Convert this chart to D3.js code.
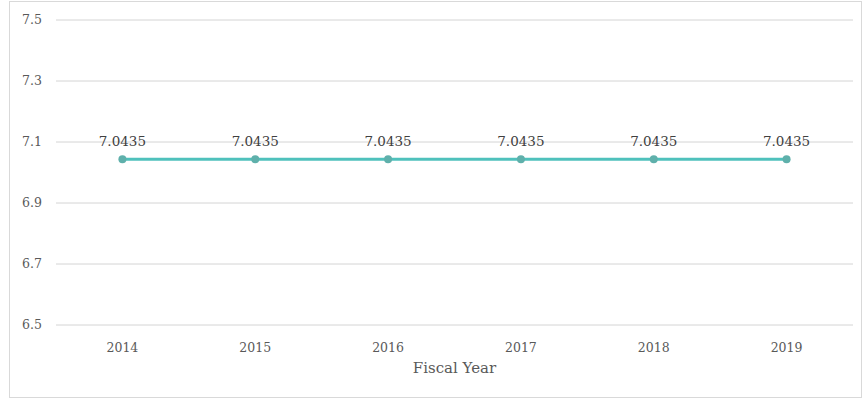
<!DOCTYPE html>
<meta charset="utf-8">
<head>
  <script src="https://d3js.org/d3.v7.min.js"></script>
  <style>
    body { margin: 0; background: #fff; }
    text { font-family: "DejaVu Serif", "Liberation Serif", serif; fill: #595959; }
  </style>
</head>
<body>
<div id="display"></div>
<script>
  var years = ["2014", "2015", "2016", "2017", "2018", "2019"];
  var values = [7.0435, 7.0435, 7.0435, 7.0435, 7.0435, 7.0435];
  var yTicks = [6.5, 6.7, 6.9, 7.1, 7.3, 7.5];

  var width = 864, height = 400;
  var margin = {top: 20, right: 11, bottom: 75, left: 56};

  var svg = d3.select("#display")
    .append("svg")
      .attr("width", width)
      .attr("height", height);

  // outer frame
  svg.append("rect")
    .attr("x", 9.5).attr("y", 1.5)
    .attr("width", 852).attr("height", 396)
    .attr("fill", "none")
    .attr("stroke", "#d9d9d9");

  var x = d3.scaleBand()
    .domain(years)
    .range([margin.left, width - margin.right]);

  var y = d3.scaleLinear()
    .domain([6.5, 7.5])
    .range([height - margin.bottom, margin.top]);

  // gridlines
  svg.append("g")
    .selectAll("line")
    .data(yTicks)
    .enter()
    .append("line")
      .attr("x1", margin.left)
      .attr("x2", width - margin.right)
      .attr("y1", function(d) { return y(d); })
      .attr("y2", function(d) { return y(d); })
      .attr("stroke", "#d4d4d4")
      .attr("stroke-width", 1);

  // y axis labels
  svg.append("g")
    .selectAll("text")
    .data(yTicks)
    .enter()
    .append("text")
      .attr("x", 42)
      .attr("y", function(d) { return y(d); })
      .attr("text-anchor", "end")
      .attr("dominant-baseline", "middle")
      .style("font-size", "12.5px")
      .text(function(d) { return d3.format(".1f")(d); });

  // x axis labels
  svg.append("g")
    .selectAll("text")
    .data(years)
    .enter()
    .append("text")
      .attr("x", function(d) { return x(d) + x.bandwidth() / 2; })
      .attr("y", 352)
      .attr("text-anchor", "middle")
      .style("font-size", "12.5px")
      .text(function(d) { return d; });

  svg.append("text")
    .attr("x", (margin.left + width - margin.right) / 2)
    .attr("y", 373)
    .attr("text-anchor", "middle")
    .style("font-size", "15px")
    .text("Fiscal Year");

  var data = years.map(function(d, i) { return {year: d, value: values[i]}; });

  var line = d3.line()
    .x(function(d) { return x(d.year) + x.bandwidth() / 2; })
    .y(function(d) { return y(d.value); });

  svg.append("path")
    .datum(data)
    .attr("d", line)
    .attr("fill", "none")
    .attr("stroke", "#4fc1bc")
    .attr("stroke-width", 3);

  svg.append("g")
    .selectAll("circle")
    .data(data)
    .enter()
    .append("circle")
      .attr("cx", function(d) { return x(d.year) + x.bandwidth() / 2; })
      .attr("cy", function(d) { return y(d.value); })
      .attr("r", 4)
      .attr("fill", "#5fb0ab");

  svg.append("g")
    .selectAll("text")
    .data(data)
    .enter()
    .append("text")
      .attr("x", function(d) { return x(d.year) + x.bandwidth() / 2; })
      .attr("y", function(d) { return y(d.value) - 13; })
      .attr("text-anchor", "middle")
      .style("font-size", "13.5px")
      .style("fill", "#404040")
      .text(function(d) { return d.value; });
</script>
</body>
